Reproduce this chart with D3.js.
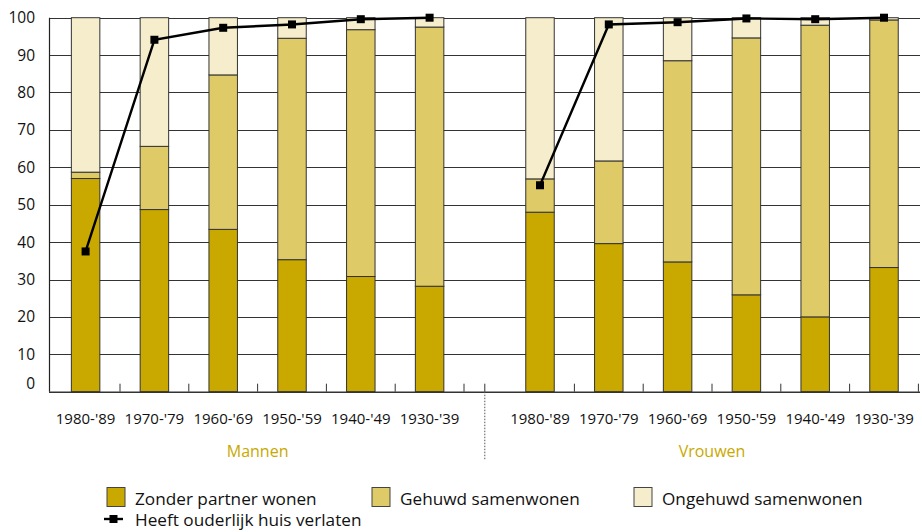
<!DOCTYPE html>
<html><head><meta charset="utf-8">
<script src="https://cdn.jsdelivr.net/npm/d3@7"></script>
<style>
body{margin:0;background:#fff;}
text{font-family:"Open Sans","Noto Sans",sans-serif;}
</style></head>
<body><svg id="c" width="922" height="532"></svg>
<script>
const cohorts = ["1980-'89","1970-'79","1960-'69","1950-'59","1940-'49","1930-'39"];
const groups = ["Mannen","Vrouwen"];
const seriesNames = ["Zonder partner wonen","Gehuwd samenwonen","Ongehuwd samenwonen"];
const lineName = "Heeft ouderlijk huis verlaten";
const yTicks = [0,10,20,30,40,50,60,70,80,90,100];

const menZonder = [57, 48.7, 43.4, 35.3, 30.8, 28.2];
const menGehuwd = [1.7, 16.9, 41.3, 59.2, 66.0, 69.3];
const menOngehuwd = [41.3, 34.4, 15.3, 5.5, 3.2, 2.5];
const menVerlaten = [37.5, 94.1, 97.3, 98.2, 99.6, 100];

const womenZonder = [48.0, 39.6, 34.7, 25.9, 20.0, 33.2];
const womenGehuwd = [8.9, 22.1, 53.8, 68.7, 78.0, 66.2];
const womenOngehuwd = [43.1, 38.3, 11.5, 5.4, 2.0, 0.6];
const womenVerlaten = [55.2, 98.2, 98.8, 99.8, 99.6, 100];

const colors = ["#C9A800", "#DECA66", "#F5EDCB"];
const svg = d3.select("#c");

const plotL = 49, plotR = 920, yTop = 17.7, yBot = 391.7;
const y = d3.scaleLinear().domain([0,100]).range([yBot, yTop]);
const xRanges = [[51.2, 464], [505.6, 918.4]];
const xs = xRanges.map(r => d3.scaleBand().domain(cohorts).range(r).paddingInner(0.586).paddingOuter(0.293));

// gridlines
svg.append("g").selectAll("line").data(yTicks.filter(d=>d>0)).join("line")
  .attr("x1", plotL).attr("x2", plotR)
  .attr("y1", d=>Math.round(y(d))+0.5).attr("y2", d=>Math.round(y(d))+0.5)
  .attr("stroke", "#333").attr("stroke-width", 1.2);

// y axis line
svg.append("line").attr("x1", plotL+0.5).attr("x2", plotL+0.5).attr("y1", y(100)).attr("y2", y(0))
  .attr("stroke", "#222").attr("stroke-width", 1.2);

// y labels
svg.append("g").selectAll("text").data(yTicks).join("text")
  .attr("x", 35).attr("y", d=>y(d)+5.5 - (d===0 ? 8 : 0)).attr("text-anchor","end")
  .attr("font-size", 15.5).attr("fill","#111").text(d=>d);

const groupData = [
  {z: menZonder, g: menGehuwd, o: menOngehuwd, l: menVerlaten},
  {z: womenZonder, g: womenGehuwd, o: womenOngehuwd, l: womenVerlaten}
];

groupData.forEach((gd, gi) => {
  const x = xs[gi];
  const rows = cohorts.map((c,i)=>({cohort:c, s0: gd.z[i], s1: gd.g[i], s2: gd.o[i]}));
  const stack = d3.stack().keys(["s0","s1","s2"])(rows);
  stack.forEach((layer, li) => {
    svg.append("g").selectAll("rect").data(layer).join("rect")
      .attr("x", d=>x(d.data.cohort))
      .attr("width", x.bandwidth())
      .attr("y", d=>y(Math.min(100,d[1])))
      .attr("height", d=>y(d[0]) - y(Math.min(100,d[1])))
      .attr("fill", colors[li])
      .attr("stroke", "#333").attr("stroke-width", 1);
  });
  // ticks at band boundaries
  const step = x.step();
  const bounds = d3.range(1, cohorts.length+1).map(i => xRanges[gi][0] + i*step);
  svg.append("g").selectAll("line").data(bounds).join("line")
    .attr("x1", d=>d).attr("x2", d=>d).attr("y1", yBot-8).attr("y2", yBot)
    .attr("stroke", "#333").attr("stroke-width", 1);
  // category labels
  svg.append("g").selectAll("text").data(cohorts).join("text")
    .attr("x", d=>x(d)+x.bandwidth()/2).attr("y", 424)
    .attr("text-anchor","middle").attr("font-size", 15).attr("fill","#111")
    .text(d=>d);
  // group label
  svg.append("text").attr("x", (xRanges[gi][0]+xRanges[gi][1])/2).attr("y", 457)
    .attr("text-anchor","middle").attr("font-size", 16).attr("fill","#C9A800")
    .text(groups[gi]);
  // line
  const line = d3.line().x((d,i)=>x(cohorts[i])+x.bandwidth()/2).y(d=>y(d));
  svg.append("path").datum(gd.l).attr("d", line).attr("fill","none")
    .attr("stroke","#000").attr("stroke-width", 2.4);
  svg.append("g").selectAll("rect").data(gd.l).join("rect")
    .attr("x", (d,i)=>x(cohorts[i])+x.bandwidth()/2-4)
    .attr("y", d=>y(d)-4).attr("width", 8).attr("height", 8).attr("fill","#000");
});

// x axis line
svg.append("line").attr("x1", plotL).attr("x2", plotR).attr("y1", yBot+0.5).attr("y2", yBot+0.5)
  .attr("stroke", "#333").attr("stroke-width", 1.5);

// separator
const sepX = (xRanges[0][1] + xRanges[1][0]) / 2;
svg.append("line").attr("x1", sepX).attr("x2", sepX).attr("y1", yBot-8).attr("y2", yBot)
  .attr("stroke","#333").attr("stroke-width",1);
svg.append("line").attr("x1", sepX).attr("x2", sepX).attr("y1", yBot).attr("y2", 460)
  .attr("stroke","#555").attr("stroke-width",1).attr("stroke-dasharray","1.5,1.5");

// legend
const legX = [107, 372, 634];
seriesNames.forEach((n,i)=>{
  svg.append("rect").attr("x", legX[i]).attr("y", 487.5).attr("width", 18).attr("height", 19)
    .attr("fill", colors[i]).attr("stroke","#444").attr("stroke-width",1);
  svg.append("text").attr("x", legX[i]+28).attr("y", 505).attr("font-size", 17.2).attr("fill","#111").text(n);
});
svg.append("line").attr("x1", 104).attr("x2", 123).attr("y1", 519).attr("y2", 519)
  .attr("stroke","#000").attr("stroke-width", 2.4);
svg.append("rect").attr("x", 109.5).attr("y", 515).attr("width", 8).attr("height", 8).attr("fill","#000");
svg.append("text").attr("x", 135).attr("y", 526).attr("font-size", 17.2).attr("fill","#111").text(lineName);
</script>
</body></html>
